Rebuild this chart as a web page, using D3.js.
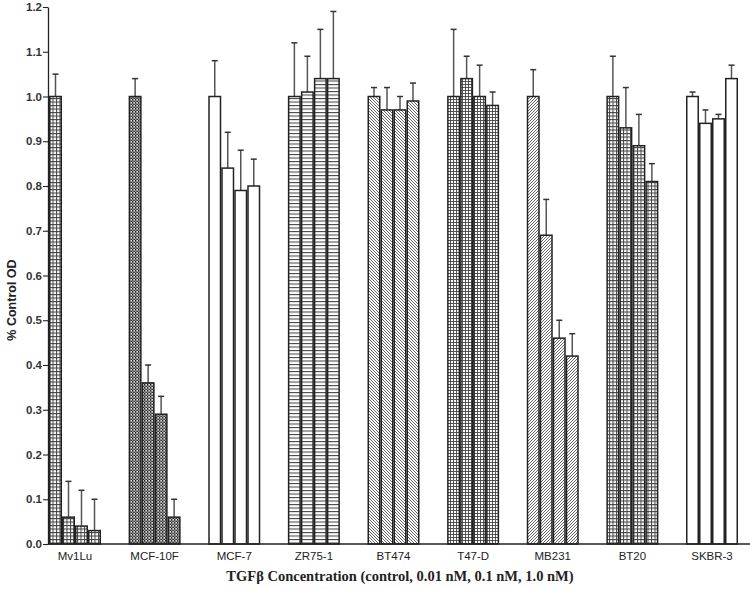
<!DOCTYPE html>
<html>
<head>
<meta charset="utf-8">
<script src="https://cdn.jsdelivr.net/npm/d3@7"></script>
<style>
body { margin: 0; background: #fff; }
svg { display: block; }
</style>
</head>
<body>
<svg id="chart" width="750" height="589"></svg>
<script>
//cell lines along the x axis
var cellLines = ["Mv1Lu", "MCF-10F", "MCF-7", "ZR75-1", "BT474", "T47-D", "MB231", "BT20", "SKBR-3"];
//dose order within each group
var doses = ["control", "0.01 nM", "0.1 nM", "1.0 nM"];
//mean % control OD per cell line, one per dose
var means = [
	[1.00, 0.06, 0.04, 0.03],
	[1.00, 0.36, 0.29, 0.06],
	[1.00, 0.84, 0.79, 0.80],
	[1.00, 1.01, 1.04, 1.04],
	[1.00, 0.97, 0.97, 0.99],
	[1.00, 1.04, 1.00, 0.98],
	[1.00, 0.69, 0.46, 0.42],
	[1.00, 0.93, 0.89, 0.81],
	[1.00, 0.94, 0.95, 1.04]
];
//top of the error bar
var errTops = [
	[1.05, 0.14, 0.12, 0.10],
	[1.04, 0.40, 0.33, 0.10],
	[1.08, 0.92, 0.88, 0.86],
	[1.12, 1.09, 1.15, 1.19],
	[1.02, 1.02, 1.00, 1.03],
	[1.15, 1.09, 1.07, 1.01],
	[1.06, 0.77, 0.50, 0.47],
	[1.09, 1.02, 0.96, 0.85],
	[1.01, 0.97, 0.96, 1.07]
];
//fill pattern per cell line
var patterns = ["grid", "check", "none", "hlines", "back", "finegrid", "fwd", "grid", "none"];
var yTicks = [0, 0.1, 0.2, 0.3, 0.4, 0.5, 0.6, 0.7, 0.8, 0.9, 1.0, 1.1, 1.2];

var svg = d3.select("#chart");
var defs = svg.append("defs");

var barStep = 13,
	barWidth = 11.5;

//define the hatch patterns
function makePattern(id, w, h, draw) {
	var p = defs.append("pattern")
		.attr("id", id)
		.attr("patternUnits", "userSpaceOnUse")
		.attr("width", w)
		.attr("height", h);
	p.append("rect").attr("width", w).attr("height", h).attr("fill", "#fff");
	draw(p);
}
var hatchColor = "#444";
makePattern("grid", 3.5, 3.5, function(p){
	p.append("path").attr("d", "M0,0.5H3.5M0.5,0V3.5").attr("stroke", hatchColor).attr("stroke-width", 1);
});
makePattern("finegrid", 3, 3, function(p){
	p.append("path").attr("d", "M0,0.5H3M0.5,0V3").attr("stroke", hatchColor).attr("stroke-width", 0.9);
});
makePattern("check", 3, 3, function(p){
	p.append("rect").attr("width", 3).attr("height", 3).attr("fill", "#999");
	p.append("rect").attr("width", 1.5).attr("height", 1.5).attr("fill", "#222");
	p.append("rect").attr("x", 1.5).attr("y", 1.5).attr("width", 1.5).attr("height", 1.5).attr("fill", "#333");
	p.append("rect").attr("x", 1.5).attr("width", 1.5).attr("height", 1.5).attr("fill", "#ddd");
});
makePattern("hlines", 4, 3.5, function(p){
	p.append("path").attr("d", "M0,0.5H4").attr("stroke", hatchColor).attr("stroke-width", 1.1);
});
makePattern("fwd", 3, 3, function(p){
	p.append("path").attr("d", "M-1,1L1,-1M0,3L3,0M2,4L4,2").attr("stroke", "#555").attr("stroke-width", 0.9);
});
makePattern("back", 3, 3, function(p){
	p.append("path").attr("d", "M-1,2L1,4M0,0L3,3M2,-1L4,1").attr("stroke", "#555").attr("stroke-width", 0.9);
});

//scales
var y = d3.scaleLinear()
	.domain([0, 1.2])
	.range([544, 7]);

var x = d3.scalePoint()
	.domain(cellLines)
	.range([75, 712]);

//y axis
var yAxis = svg.append("g")
	.attr("transform", "translate(48,0)")
	.call(d3.axisLeft(y).tickValues(yTicks).tickFormat(d3.format(".1f")).tickSize(5).tickSizeOuter(0));
yAxis.select(".domain").attr("stroke", "#222").attr("stroke-width", 1.3);
yAxis.selectAll(".tick line").attr("stroke", "#222").attr("stroke-width", 1.1);
yAxis.selectAll(".tick text")
	.attr("font-family", "Liberation Sans, Arial, sans-serif")
	.attr("font-size", "11.5px")
	.attr("font-weight", "bold")
	.attr("fill", "#333")
	.attr("x", -6);

//bars
var groups = svg.selectAll(".group")
	.data(cellLines)
	.enter().append("g")
	.attr("class", "group");

groups.each(function(name, gi){
	var g = d3.select(this);
	var x0 = x(name) - 2 * barStep + (barStep - barWidth) / 2;
	doses.forEach(function(dose, di){
		var bx = x0 + di * barStep;
		var cx = bx + barWidth / 2;
		//error bar
		g.append("line")
			.attr("x1", cx).attr("x2", cx)
			.attr("y1", y(means[gi][di])).attr("y2", y(errTops[gi][di]))
			.attr("stroke", "#555").attr("stroke-width", 1.5);
		g.append("line")
			.attr("x1", cx - 3).attr("x2", cx + 3)
			.attr("y1", y(errTops[gi][di])).attr("y2", y(errTops[gi][di]))
			.attr("stroke", "#333").attr("stroke-width", 1.5);
		g.append("rect")
			.attr("x", bx)
			.attr("y", y(means[gi][di]))
			.attr("width", barWidth)
			.attr("height", y(0) - y(means[gi][di]))
			.attr("fill", patterns[gi] == "none" ? "#fff" : "url(#" + patterns[gi] + ")")
			.attr("stroke", "#222")
			.attr("stroke-width", 1.5);
	});
});

//x axis
var xAxis = svg.append("g")
	.attr("transform", "translate(0,544)");
xAxis.append("line")
	.attr("x1", 48).attr("x2", 750)
	.attr("stroke", "#222").attr("stroke-width", 1.3);
xAxis.selectAll(".label")
	.data(cellLines)
	.enter().append("text")
	.attr("class", "label")
	.attr("x", function(d){ return x(d); })
	.attr("y", 16)
	.attr("text-anchor", "middle")
	.attr("font-family", "Liberation Sans, Arial, sans-serif")
	.attr("font-size", "11.5px")
	.attr("fill", "#222")
	.text(function(d){ return d; });

//axis titles
svg.append("text")
	.attr("transform", "translate(16,300) rotate(-90)")
	.attr("text-anchor", "middle")
	.attr("font-family", "Liberation Sans, Arial, sans-serif")
	.attr("font-size", "12.5px")
	.attr("font-weight", "bold")
	.attr("fill", "#222")
	.text("% Control OD");

svg.append("text")
	.attr("x", 400)
	.attr("y", 581)
	.attr("text-anchor", "middle")
	.attr("font-family", "Liberation Serif, Times New Roman, serif")
	.attr("font-size", "14.5px")
	.attr("font-weight", "bold")
	.attr("fill", "#222")
	.text("TGFβ Concentration (control, 0.01 nM, 0.1 nM, 1.0 nM)");
</script>
</body>
</html>
